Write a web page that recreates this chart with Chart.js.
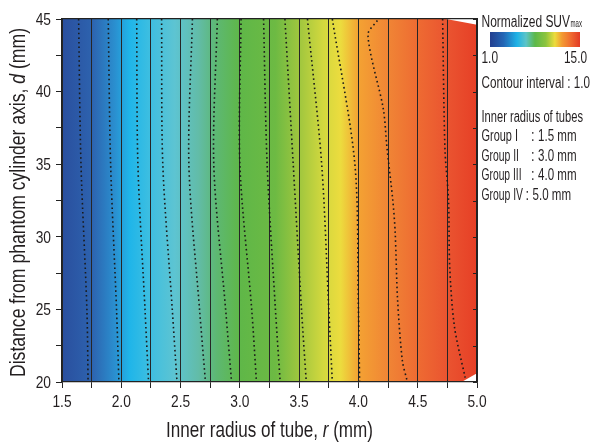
<!DOCTYPE html>
<html>
<head>
<meta charset="utf-8">
<script src="https://cdn.jsdelivr.net/npm/chart.js@4"></script>
<style>
  body { margin: 0; background: #fff; }
</style>
</head>
<body>
<canvas id="suv-map" width="601" height="448"></canvas>
<script>
// Kontur SUV (garis putus-putus)
const yLevels = [45, 35, 25, 20];
const contour1 = [1.64, 1.66, 1.71, 1.72];
const contour2 = [1.89, 1.91, 1.96, 1.98];
const contour3 = [2.13, 2.14, 2.20, 2.23];
const contour4 = [2.34, 2.35, 2.43, 2.47];
const contour5 = [2.60, 2.57, 2.66, 2.71];
const contour6 = [2.81, 2.78, 2.88, 2.93];
const contour7 = [3.01, 3.00, 3.10, 3.14];
const contour8 = [3.20, 3.23, 3.30, 3.34];
const contour9 = [3.38, 3.45, 3.52, 3.56];
const contour10 = [3.57, 3.69, 3.75, 3.78];
const contour11 = [3.78, 3.97, 4.00, 4.01];
const contour12Y = [44.9, 43.9, 38.8, 36.2, 32.5, 30.3, 25.7, 21.5, 20.1];
const contour12X = [4.16, 4.08, 4.21, 4.24, 4.29, 4.31, 4.33, 4.37, 4.41];
const contour13Y = [45, 36, 32.5, 27.9, 23.8, 20.3];
const contour13X = [4.71, 4.73, 4.76, 4.77, 4.81, 4.90];

// Area putih di pojok kanan
const cornerTopX = [4.74, 5.0];
const cornerTopY = [45, 44.6];
const cornerBottomX = [4.87, 5.0];
const cornerBottomY = [20, 20.6];

// Warna latar menurut jari-jari tabung
const fieldStops = [1.5, 1.75, 1.95, 2.07, 2.25, 2.45, 2.65, 2.8, 3.0, 3.3, 3.5, 3.7, 3.85, 4.0, 4.25, 4.5, 4.75, 5.0];
const fieldColors = ['#2a4f9e', '#2d62ae', '#2a90d0', '#1fb5e9', '#3fbfe0', '#5dc4d2', '#62bca8', '#5db873', '#5fb748',
    '#6dba43', '#9fc63e', '#d2d83e', '#ecdc3e', '#f4a233', '#f08535', '#ee6b32', '#ea5430', '#e63f26'];

// Skala warna (colorbar)
const barRange = [1.0, 15.0];
const barStops = [0, 0.15, 0.3, 0.4, 0.5, 0.62, 0.72, 0.8, 0.9, 1];
const barColors = ['#233f8f', '#2466b5', '#1fb2e6', '#5cc4c8', '#5cb84a', '#8cc43e', '#ecdc3c', '#f39a32', '#ef6a30', '#e23a25'];

const groupNames = ['Group I', 'Group II', 'Group III', 'Group IV'];
const groupRadius = ['1.5 mm', '3.0 mm', '4.0 mm', '5.0 mm'];

const FONT = "'Liberation Sans', Arial, sans-serif";
const INK = '#231f20';

function toPoints(xs, ys) {
    return xs.map((x, i) => ({ x: x, y: ys[i] }));
}

// Tulis teks dengan lebar tertentu (meniru font condensed)
function fitText(ctx, text, x, y, width, size, align) {
    ctx.font = size + 'px ' + FONT;
    const w = ctx.measureText(text).width;
    ctx.save();
    ctx.translate(x, y);
    ctx.scale(width / w, 1);
    ctx.textAlign = align || 'left';
    ctx.fillText(text, 0, 0);
    ctx.restore();
}

function squeezeText(ctx, text, x, y, k, size, align) {
    ctx.font = size + 'px ' + FONT;
    ctx.save();
    ctx.translate(x, y);
    ctx.scale(k, 1);
    ctx.textAlign = align || 'left';
    ctx.fillText(text, 0, 0);
    ctx.restore();
}

// Judul sumbu dengan huruf miring (d, r)
function richTitle(ctx, parts, cx, cy, width, size, rotate) {
    ctx.save();
    ctx.translate(cx, cy);
    if (rotate) ctx.rotate(-Math.PI / 2);
    let total = 0;
    const widths = parts.map(p => {
        ctx.font = (p[1] ? 'italic ' : '') + size + 'px ' + FONT;
        const w = ctx.measureText(p[0]).width;
        total += w;
        return w;
    });
    ctx.scale(width / total, 1);
    ctx.textAlign = 'left';
    let x = -total / 2;
    parts.forEach((p, i) => {
        ctx.font = (p[1] ? 'italic ' : '') + size + 'px ' + FONT;
        ctx.fillText(p[0], x, 0);
        x += widths[i];
    });
    ctx.restore();
}

const contourList = [contour1, contour2, contour3, contour4, contour5, contour6, contour7,
    contour8, contour9, contour10, contour11];

const dotted = { showLine: true, borderColor: '#1a1a1a', borderWidth: 1.6, borderDash: [1.6, 3],
    pointRadius: 0, tension: 0.3, fill: false };

const contourSets = contourList.map(c => Object.assign({ data: toPoints(c, yLevels) }, dotted));
contourSets.push(Object.assign({ data: toPoints(contour12X, contour12Y) }, dotted));
contourSets.push(Object.assign({ data: toPoints(contour13X, contour13Y) }, dotted));

const cornerSets = [
    { data: toPoints(cornerTopX, cornerTopY), showLine: true, borderWidth: 0, pointRadius: 0,
      backgroundColor: '#ffffff', fill: 'end' },
    { data: toPoints(cornerBottomX, cornerBottomY), showLine: true, borderWidth: 0, pointRadius: 0,
      backgroundColor: '#ffffff', fill: 'start' }
];

// Plugin: isi warna kontinu di area grafik
const fieldPlugin = {
    id: 'fieldFill',
    beforeDraw(chart) {
        const { ctx, chartArea: a, scales: { x } } = chart;
        const x0 = x.getPixelForValue(fieldStops[0]);
        const x1 = x.getPixelForValue(fieldStops[fieldStops.length - 1]);
        const g = ctx.createLinearGradient(x0, 0, x1, 0);
        fieldStops.forEach((v, i) => {
            g.addColorStop((x.getPixelForValue(v) - x0) / (x1 - x0), fieldColors[i]);
        });
        ctx.save();
        ctx.fillStyle = g;
        ctx.fillRect(a.left, a.top, a.right - a.left, a.bottom - a.top);
        ctx.restore();
    }
};

// Plugin: label sumbu, tick kanan ke dalam, legenda teks
const sidePlugin = {
    id: 'sideLegend',
    afterDraw(chart) {
        const { ctx, chartArea: a, scales: { x, y } } = chart;
        ctx.save();
        ctx.strokeStyle = '#222';
        ctx.lineWidth = 1;
        y.ticks.forEach(t => {
            const py = Math.round(y.getPixelForValue(t.value)) + 0.5;
            ctx.beginPath();
            ctx.moveTo(a.right - 4, py);
            ctx.lineTo(a.right, py);
            ctx.stroke();
        });

        ctx.fillStyle = INK;
        ctx.textBaseline = 'alphabetic';

        // label tick
        x.ticks.forEach(t => {
            if (Math.abs(t.value * 2 - Math.round(t.value * 2)) < 1e-6) {
                squeezeText(ctx, t.value.toFixed(1), x.getPixelForValue(t.value), a.bottom + 25, 0.86, 16, 'center');
            }
        });
        y.ticks.forEach(t => {
            if (Math.abs(t.value % 5) < 1e-6) {
                squeezeText(ctx, String(t.value), 51, y.getPixelForValue(t.value) + 5.8, 0.86, 16, 'right');
            }
        });

        // judul sumbu
        richTitle(ctx, [['Inner radius of tube, ', false], ['r', true], [' (mm)', false]],
            (a.left + a.right) / 2, 437, 207, 22, false);
        richTitle(ctx, [['Distance from phantom cylinder axis, ', false], ['d', true], [' (mm)', false]],
            25, 202.5, 349, 22, true);

        // legenda
        const lx = 481.5;
        fitText(ctx, 'Normalized SUV', lx, 27, 88.5, 16);
        fitText(ctx, 'max', 570.5, 27, 11.5, 10);

        const bx = 490, bw = 90, by = 32, bh = 15;
        const g = ctx.createLinearGradient(bx, 0, bx + bw, 0);
        barStops.forEach((s, i) => g.addColorStop(s, barColors[i]));
        ctx.fillStyle = g;
        ctx.fillRect(bx, by, bw, bh);

        ctx.fillStyle = INK;
        fitText(ctx, barRange[0].toFixed(1), 481.5, 63, 16.5, 16);
        fitText(ctx, barRange[1].toFixed(1), 564, 63, 23, 16);
        fitText(ctx, 'Contour interval : 1.0', lx, 88, 108.5, 16);
        fitText(ctx, 'Inner radius of tubes', lx, 122, 101.5, 16);
        const nameW = [36.5, 37.5, 40, 41.5];
        const colonX = [531, 531, 531, 525.5];
        groupNames.forEach((name, i) => {
            const base = 141 + i * 19.7;
            fitText(ctx, name, lx, base, nameW[i], 16);
            squeezeText(ctx, ':', colonX[i], base, 0.8, 16);
            fitText(ctx, groupRadius[i], colonX[i] + 7, base, 38.5, 16);
        });
        ctx.restore();
    }
};

const chart = new Chart(document.getElementById('suv-map'), {
    type: 'scatter',
    data: { datasets: cornerSets.concat(contourSets) },
    options: {
        responsive: false,
        animation: false,
        layout: { padding: { top: 19, right: 124, left: 0, bottom: 0 } },
        plugins: {
            legend: { display: false },
            tooltip: { enabled: false }
        },
        scales: {
            x: {
                type: 'linear', position: 'bottom', min: 1.5, max: 5.0,
                afterFit: s => { s.height = 66; },
                afterBuildTicks: s => {
                    s.ticks = [];
                    for (let i = 0; i <= 14; i++) s.ticks.push({ value: 1.5 + i * 0.25 });
                },
                ticks: { display: false, autoSkip: false },
                grid: { color: '#262626', lineWidth: 1, tickLength: 6, drawTicks: true },
                border: { display: true, color: '#222', width: 1.2, z: 1 }
            },
            y: {
                type: 'linear', position: 'left', min: 20, max: 45,
                afterFit: s => { s.width = 62; },
                ticks: { display: false, stepSize: 2.5, autoSkip: false },
                grid: { drawOnChartArea: false, tickLength: 6, color: '#222' },
                border: { display: true, color: '#222', width: 1.2, z: 1 }
            },
            x2: {
                type: 'linear', position: 'top', min: 1.5, max: 5.0,
                afterFit: s => { s.height = 0; },
                ticks: { display: false },
                grid: { display: false },
                border: { display: true, color: '#222', width: 1.2, z: 1 }
            },
            y2: {
                type: 'linear', position: 'right', min: 20, max: 45,
                afterFit: s => { s.width = 0; },
                ticks: { display: false },
                grid: { display: false },
                border: { display: true, color: '#222', width: 1.2, z: 1 }
            }
        }
    },
    plugins: [fieldPlugin, sidePlugin]
});
</script>
</body>
</html>
